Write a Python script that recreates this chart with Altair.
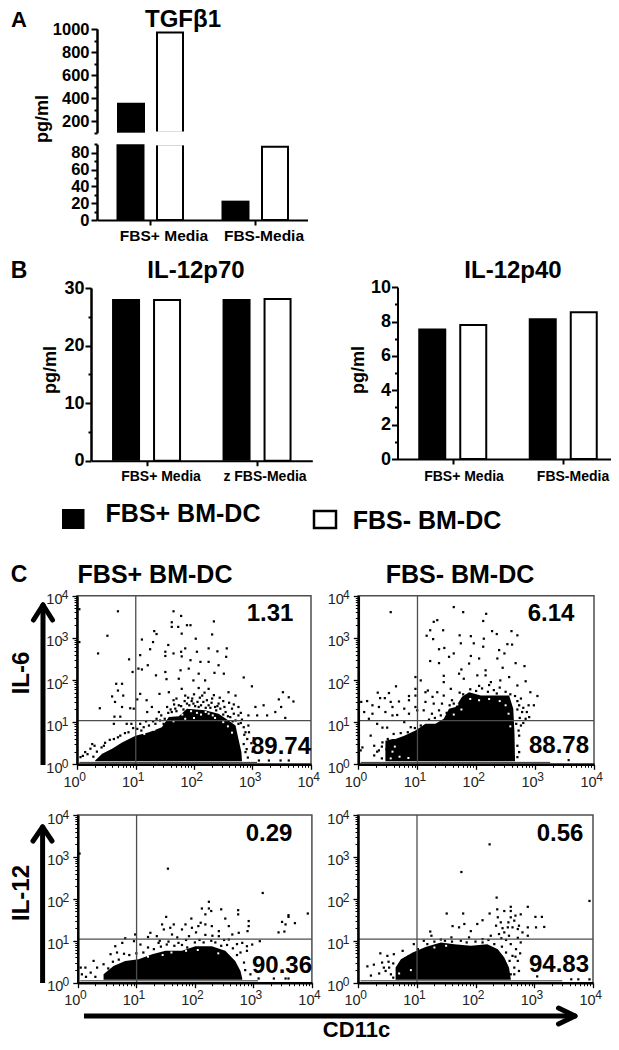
import altair as alt
import pandas as pd

FONT = "Liberation Sans"
W, H = 603, 1034

# ---------- bar data ----------
TGF_CATS = ["FBS+ Media", "FBS-Media"]
TGF_POS = [360, 23]
TGF_NEG = [970, 87]
P70_CATS = ["FBS+ Media", "z FBS-Media"]
P70_POS = [28.1, 28.1]
P70_NEG = [27.9, 28.1]
P40_CATS = ["FBS+ Media", "FBS-Media"]
P40_POS = [7.6, 8.2]
P40_NEG = [7.8, 8.55]

# ---------- flow plots: log10 positions ----------
IL6_POS_ENV_X = [0.31,0.43,0.60,0.77,1.00,1.23,1.45,1.57,1.74,1.88,2.19,2.42,2.59,2.71,2.76,2.81,2.82]
IL6_POS_ENV_Y = [0.09,0.25,0.37,0.52,0.68,0.76,0.88,1.12,1.14,1.32,1.28,1.20,1.04,0.92,0.60,0.29,0.09]
IL6_POS_DOTS = [(0.70,3.63),(0.52,3.05),(0.36,2.63),(0.04,2.90),(0.04,3.68),(1.65,3.63),(1.78,3.52),(1.62,3.37),(1.62,3.26),(1.73,3.26),(1.88,3.30),(1.94,3.30),(2.34,3.39),(1.79,3.10),(1.32,3.16),(1.36,3.09),(1.30,2.90),(1.11,2.96),(1.56,2.83),(2.03,2.98),(2.31,3.08),(2.25,2.75),(2.56,2.75),(2.40,2.68),(2.55,2.55),(1.85,2.75),(1.78,2.67),(1.65,2.63),(1.51,2.67),(1.08,2.59),(0.89,2.49),(1.25,2.73),(1.51,2.57),(1.79,2.56),(2.05,2.67),(1.94,2.47),(2.25,2.43),(2.11,2.43),(2.42,2.35),(1.05,2.27),(1.11,2.25),(0.95,2.19),(1.21,2.35),(1.35,2.11),(1.51,2.19),(1.77,2.23),(1.91,2.27),(2.08,2.15),(2.35,2.17),(2.51,2.15),(1.53,2.02),(1.74,2.03),(1.99,1.99),(2.19,1.99),(2.85,2.06),(2.99,1.85),(0.67,1.91),(0.77,1.91),(0.70,1.75),(0.79,1.63),(0.60,1.61),(0.65,1.48),(0.39,1.33),(0.77,1.36),(0.91,1.33),(0.97,1.32),(1.08,1.67),(1.19,1.52),(1.03,1.54),(1.41,1.67),(1.57,1.71),(1.79,1.79),(2.08,1.81),(2.25,1.79),(2.59,1.71),(2.71,1.63),(3.52,1.71),(3.45,1.54),(3.70,1.49),(3.49,1.36),(3.62,1.59),(3.05,1.36),(3.19,1.40),(3.39,1.24),(3.56,1.10),(3.25,1.16),(3.08,1.16),(2.93,1.16),(2.76,1.36),(2.76,1.16),(2.65,1.32),(0.64,1.13),(0.74,1.13),(0.63,0.96),(0.85,0.96),(0.93,0.96),(1.20,1.24),(1.28,1.36),(1.40,1.24),(1.54,1.36),(1.65,1.52),(1.85,1.63),(1.97,1.56),(2.14,1.63),(2.31,1.56),(2.42,1.44),(0.06,0.17),(0.14,0.29),(0.23,0.37),(0.26,0.48),(0.34,0.30),(0.46,0.44),(0.48,0.51),(0.63,0.60),(0.74,0.68),(0.88,0.76),(1.03,0.84),(1.08,0.96),(1.14,0.88),(1.23,0.92),(1.34,0.96),(1.42,1.04),(1.48,0.96),(1.62,1.24),(1.68,1.32),(1.74,1.40),(1.88,1.44),(1.99,1.44),(2.08,1.36),(2.16,1.48),(2.25,1.40),(2.36,1.36),(2.45,1.32),(2.54,1.24),(2.62,1.12),(2.71,1.04),(2.76,0.96),(2.85,0.88),(2.93,0.92),(2.88,0.76),(2.91,0.60),(2.85,0.48),(2.88,0.29),(3.11,0.09),(3.28,0.09),(3.48,0.09),(3.62,0.09),
(1.60,1.30),(1.70,1.26),(1.78,1.38),(1.82,1.30),(1.92,1.40),(1.96,1.50),(2.02,1.38),(2.06,1.48),(2.12,1.40),(2.20,1.34),(2.22,1.52),(2.28,1.34),(2.30,1.46),(2.38,1.28),(2.40,1.38),(2.50,1.18),(2.52,1.36),(2.58,1.14),(2.66,1.02),(2.68,1.20),(2.80,0.98),(2.82,1.06),(2.86,0.70),(2.94,0.76),(2.98,0.50),(3.02,0.62),(2.90,0.36),(2.92,0.16),(3.00,0.30),(1.36,1.08),(1.30,1.02),(1.18,1.02),(1.10,0.80),(0.96,0.86),(0.82,0.74),(0.70,0.64),(0.56,0.58),(0.42,0.40),(0.30,0.44),(0.18,0.24),(0.10,0.20),(0.28,0.18),(1.44,1.16),(1.50,1.08),(1.56,1.22),(1.66,1.42),(1.70,1.56),(1.84,1.50),(1.90,1.58),(2.00,1.66),(2.10,1.58),(2.18,1.70),(2.34,1.64),(2.44,1.58),(2.50,1.50),(2.60,1.46),(2.68,1.42),(2.80,1.22)]
IL6_POS_HOLES = [(1.80,1.18),(1.95,1.26),(2.05,1.22),(2.12,1.18),(2.20,1.24),(2.25,1.20),(2.32,1.16),(2.36,1.10),(2.00,1.10),(1.85,1.08),(1.65,1.02),(2.50,1.00),(2.58,0.90),(1.32,0.82),(1.15,0.72),(2.65,0.75)]

IL6_NEG_ENV_X = [0.46,0.58,0.63,0.78,0.97,1.14,1.31,1.45,1.54,1.65,1.76,1.88,2.08,2.30,2.56,2.63,2.65,2.66]
IL6_NEG_ENV_Y = [0.56,0.60,0.60,0.68,0.80,0.96,0.96,1.08,1.32,1.36,1.60,1.71,1.63,1.63,1.63,1.32,0.76,0.09]
IL6_NEG_DOTS = [(0.55,3.61),(1.62,3.73),(1.78,3.61),(2.17,3.57),(2.12,3.40),(1.34,3.42),(1.28,3.38),(1.22,3.18),(1.16,3.05),(1.44,3.18),(1.27,2.97),(1.72,3.06),(1.91,3.04),(2.13,2.98),(2.27,3.16),(2.35,3.09),(2.60,3.16),(2.70,3.06),(1.46,2.76),(1.37,2.73),(1.74,2.87),(1.96,2.87),(2.12,2.79),(2.53,2.85),(2.61,2.84),(2.39,2.71),(2.48,2.63),(1.62,2.63),(1.54,2.55),(1.22,2.45),(1.37,2.40),(1.91,2.57),(2.05,2.51),(2.36,2.51),(1.88,2.39),(2.67,2.40),(2.82,2.33),(2.45,2.29),(1.75,2.25),(2.16,2.23),(1.71,2.15),(1.45,2.10),(0.97,2.07),(1.06,1.99),(1.45,1.95),(1.79,2.03),(2.02,2.11),(2.16,2.11),(2.25,1.95),(2.41,1.99),(2.56,2.07),(2.84,1.97),(2.70,1.87),(0.64,1.85),(0.97,1.79),(0.52,1.69),(0.33,1.70),(1.18,1.75),(1.57,1.79),(3.04,1.62),(2.92,1.71),(2.89,1.40),(2.98,1.40),(0.15,1.50),(0.05,1.48),(0.37,1.57),(0.45,1.57),(0.55,1.48),(0.69,1.49),(0.86,1.62),(0.86,1.52),(0.97,1.63),(0.24,1.40),(0.35,1.36),(0.58,1.36),(0.78,1.32),(0.97,1.36),(0.10,1.24),(0.24,1.20),(0.46,1.24),(0.58,1.16),(0.66,1.17),(0.86,1.20),(1.00,1.28),(1.14,1.71),(1.26,1.60),(1.34,1.71),(1.45,1.63),(1.14,1.48),(1.28,1.44),(1.42,1.44),(1.59,1.52),(1.11,1.28),(1.25,1.20),(1.37,1.28),(0.18,1.08),(0.32,0.96),(0.41,0.87),(0.49,0.87),(0.21,0.68),(0.07,0.40),(0.04,0.33),(0.27,0.44),(0.35,0.33),(0.41,0.52),(0.27,0.21),(0.78,1.00),(0.89,0.88),(0.63,0.17),(2.73,1.40),(2.78,1.24),(2.84,1.08),(2.90,1.12),(2.76,0.92),(2.73,0.68),(2.70,0.44),(2.73,0.29),(2.70,0.17),(3.57,0.10),
(1.90,1.78),(2.00,1.74),(2.10,1.80),(2.20,1.72),(2.30,1.76),(2.40,1.82),(2.50,1.72),(2.58,1.66),(2.66,1.62),(2.70,1.50),(2.76,1.56),(2.80,1.34),(2.86,1.24),(2.70,1.30),(2.74,1.10),(2.80,0.98),(2.68,0.96),(2.72,0.80),(1.72,1.70),(1.78,1.66),(1.62,1.44),(1.55,1.40),(1.50,1.22),(1.40,1.16),(1.30,1.10),(1.20,1.06),(1.06,0.92),(0.96,0.86),(0.84,0.76),(0.72,0.74),(0.60,0.72),(0.50,0.60),(0.40,0.42),(0.32,0.30),(0.48,0.36),(0.55,0.26),(0.50,0.14),(0.80,0.14),(0.72,0.24),(0.92,0.12),(0.40,0.14),(2.05,1.86),(2.22,1.88),(2.35,1.68)]
IL6_NEG_HOLES = [(1.62,1.18),(1.75,1.30),(1.90,1.55),(2.05,1.52),(2.22,1.55),(2.40,1.50),(2.50,1.40),(2.55,1.20),(2.58,0.90),(1.68,1.42),(0.58,0.30),(0.55,0.14),(0.70,0.18),(0.85,0.15),(0.62,0.42)]

IL12_POS_ENV_X = [0.44,0.61,0.81,1.04,1.27,1.50,1.78,2.01,2.29,2.52,2.69,2.78,2.81]
IL12_POS_ENV_Y = [0.20,0.40,0.52,0.56,0.68,0.76,0.76,0.87,0.87,0.76,0.52,0.28,0.10]
IL12_POS_DOTS = [(0.03,3.08),(1.54,2.72),(3.16,2.14),(2.24,1.93),(2.12,1.77),(2.24,1.77),(2.28,1.71),(2.45,1.75),(2.74,1.73),(2.74,1.63),(2.18,1.63),(1.51,1.57),(2.52,1.53),(2.92,1.47),(2.92,1.35),(2.90,1.23),(3.60,1.61),(3.60,1.57),(3.49,1.45),(3.71,1.42),(3.55,1.39),(3.53,1.22),(3.43,1.20),(3.93,1.65),(1.94,1.53),(2.10,1.43),(1.84,1.39),(1.95,1.31),(1.64,1.39),(1.44,1.39),(1.47,1.27),(1.58,1.31),(1.78,1.27),(2.06,1.35),(2.18,1.39),(2.29,1.35),(2.41,1.23),(2.58,1.35),(2.64,1.15),(2.75,1.19),(1.24,1.19),(0.98,1.15),(0.81,1.06),(1.20,1.09),(1.35,1.11),(1.61,1.15),(1.90,1.11),(2.18,1.14),(2.41,1.11),(2.58,1.03),(2.81,0.95),(2.89,0.87),(3.11,0.99),(2.78,0.72),(2.89,0.76),(2.98,0.91),(0.76,0.95),(0.64,0.87),(0.96,0.99),(1.07,0.91),(0.56,0.68),(0.67,0.72),(0.79,0.69),(0.27,0.52),(0.44,0.44),(0.05,0.36),(0.13,0.36),(0.33,0.36),(0.07,0.20),(0.22,0.24),(2.95,0.20),(3.09,0.10),(3.35,0.10),(3.55,0.10),(3.60,0.10),(1.38,0.95),(1.52,0.91),(1.72,0.95),(1.87,0.84),
(0.52,0.34),(0.60,0.50),(0.70,0.55),(0.88,0.66),(1.00,0.70),(1.12,0.72),(1.20,0.84),(1.30,0.80),(1.42,0.86),(1.55,0.98),(1.65,0.88),(1.78,0.90),(1.85,1.02),(2.00,0.96),(2.08,1.02),(2.15,0.96),(2.28,1.00),(2.35,0.96),(2.45,0.88),(2.55,0.90),(2.65,0.82),(2.72,0.66),(2.84,0.48),(2.86,0.30),(2.72,0.92),(2.50,1.02),(2.30,1.12),(2.02,1.20),(1.70,1.08),(1.40,1.00),(0.14,0.14),(0.30,0.14)]
IL12_POS_HOLES = [(1.20,0.62),(1.45,0.66),(1.60,0.72),(1.85,0.76),(2.05,0.78),(2.40,0.70)]

IL12_NEG_ENV_X = [0.64,0.73,0.93,1.15,1.41,1.64,1.92,2.20,2.38,2.49,2.57,2.60]
IL12_NEG_ENV_Y = [0.36,0.56,0.72,0.85,0.96,0.92,0.88,0.92,0.80,0.60,0.36,0.10]
IL12_NEG_DOTS = [(2.24,3.30),(1.76,2.64),(3.94,1.95),(2.36,2.03),(2.60,1.81),(2.89,1.81),(1.51,1.65),(1.79,1.65),(2.24,1.65),(2.60,1.71),(2.37,1.75),(2.49,1.71),(2.77,1.63),(3.02,1.57),(3.13,1.57),(3.17,1.33),(3.03,1.32),(1.61,1.35),(2.12,1.49),(2.03,1.40),(1.81,1.40),(1.92,1.23),(1.72,1.32),(1.23,1.22),(2.38,1.56),(2.43,1.44),(2.35,1.36),(2.60,1.56),(2.66,1.48),(2.74,1.36),(2.63,1.32),(2.72,1.28),(2.55,1.32),(2.49,1.20),(2.57,1.12),(2.40,1.16),(2.26,1.12),(2.89,1.32),(2.80,1.20),(2.89,1.12),(2.72,1.07),(2.77,0.96),(2.60,0.92),(2.69,0.80),(2.63,0.64),(2.72,0.52),(2.66,0.36),(2.74,0.28),(2.60,0.20),(1.25,1.12),(1.41,1.03),(1.59,1.08),(1.89,1.08),(2.12,1.04),(1.12,1.00),(0.95,0.92),(0.76,0.76),(0.61,0.68),(0.50,0.64),(0.38,0.70),(0.41,0.48),(0.27,0.43),(0.16,0.39),(0.53,0.36),(0.47,0.28),(0.56,0.20),(0.67,0.14),(0.76,0.30),(0.22,0.17),(3.05,0.15),(3.63,0.08),(3.75,0.08),(3.94,0.08),
(0.60,0.46),(0.70,0.42),(0.86,0.62),(1.02,0.80),(1.18,0.92),(1.30,0.98),(1.48,1.00),(1.60,0.98),(1.75,1.00),(1.85,0.96),(2.00,0.98),(2.12,0.96),(2.22,1.02),(2.32,0.92),(2.45,0.86),(2.52,0.72),(2.58,0.52),(2.55,0.30),(2.68,0.62),(2.76,0.70),(2.66,0.20),(0.44,0.36),(0.36,0.22),(0.60,0.12),(0.52,0.50),(2.52,1.02),(2.44,1.06),(2.56,1.44),(2.68,1.60),(2.46,1.30)]
IL12_NEG_HOLES = [(0.70,0.22),(0.90,0.30),(1.30,0.84),(1.50,0.88)]

DECADES = [0, 1, 2, 3, 4]
MINOR_MULT = [2, 3, 4, 5, 6, 7, 8, 9]


def P(v):
    """page pixel -> chart pixel (8px page margin)"""
    return v - 8


layers = []


def text(s, x, y, size, angle=0, weight="bold", color="#000", font=FONT):
    layers.append(
        alt.Chart().mark_text(fontSize=size, fontWeight=weight, font=font, color=color,
                              angle=angle, align="center", baseline="middle")
        .encode(x=alt.value(P(x)), y=alt.value(P(y)), text=alt.value(s))
    )


def rule(x, y, x2, y2, width=5, color="#000", cap="round"):
    layers.append(
        alt.Chart().mark_rule(strokeWidth=width, color=color, strokeCap=cap)
        .encode(x=alt.value(P(x)), y=alt.value(P(y)), x2=alt.value(P(x2)), y2=alt.value(P(y2)))
    )


def box(x, y, x2, y2, fill, stroke=None, sw=0):
    kw = dict(fill=fill)
    if stroke:
        kw.update(stroke=stroke, strokeWidth=sw)
    layers.append(
        alt.Chart().mark_rect(**kw)
        .encode(x=alt.value(P(x)), y=alt.value(P(y)), x2=alt.value(P(x2)), y2=alt.value(P(y2)))
    )


def xaxis(scale, values, at_y, typ="Q", **kw):
    opts = dict(values=values, orient="bottom", offset=P(at_y) - H, title=None, grid=False,
                zindex=1, labelOverlap=False, labelBound=False, labelFlush=False)
    opts.update(kw)
    df = pd.DataFrame({"v": values})
    layers.append(
        alt.Chart(df).mark_point(opacity=0).encode(
            x=alt.X(f"v:{typ}", scale=scale, axis=alt.Axis(**opts), sort=None),
            y=alt.value(0))
    )


def yaxis(scale, values, at_x, **kw):
    opts = dict(values=values, orient="left", offset=-P(at_x), title=None, grid=False,
                zindex=1, labelOverlap=False, labelBound=False, labelFlush=False)
    opts.update(kw)
    df = pd.DataFrame({"v": values})
    layers.append(
        alt.Chart(df).mark_point(opacity=0).encode(
            y=alt.Y("v:Q", scale=scale, axis=alt.Axis(**opts)),
            x=alt.value(0))
    )


def bars(cats, vals, xscale, yscale, dx, black):
    df = pd.DataFrame({"c": cats, "v": vals})
    mk = dict(fill="#000", size=28) if black else dict(fill="#fff", stroke="#000", strokeWidth=2, size=26)
    layers.append(
        alt.Chart(df).mark_bar(xOffset=dx, **mk).encode(
            x=alt.X("c:N", scale=xscale, axis=None, sort=None),
            y=alt.Y("v:Q", scale=yscale, axis=None, stack=None))
    )


# ---------- panel letters ----------
text("A", 19, 20, 22)
text("B", 19, 271, 23)
text("C", 19, 575, 23)

# ---------- panel A ----------
xA = alt.Scale(domain=TGF_CATS, range=[P(97.5), P(307.5)], paddingInner=0, paddingOuter=0)
yA_top = alt.Scale(domain=[100, 1000], range=[P(132.7), P(29)], clamp=True, zero=False, nice=False)
yA_low = alt.Scale(domain=[0, 90], range=[P(220), P(144.3)], clamp=True, zero=False, nice=False)
bars(TGF_CATS[:1], TGF_POS[:1], xA, yA_top, -19, True)
bars(TGF_CATS[:1], TGF_NEG[:1], xA, yA_top, 20, False)
bars(TGF_CATS, TGF_POS, xA, yA_low, -19.5, True)
bars(TGF_CATS, TGF_NEG, xA, yA_low, 20, False)
box(155, 131.5, 186, 145.4, "#fff")
AX = dict(domainColor="#000", domainWidth=2, tickColor="#000", tickWidth=2, labelFont=FONT,
          labelFontWeight="bold", labelColor="#000")
yaxis(yA_top, [200, 400, 600, 800, 1000], 97, tickSize=6, labelFontSize=16.5, labelPadding=2, format="d", **AX)
yaxis(yA_top, [100, 300, 500, 700, 900], 97, tickSize=3, labels=False, **AX)
yaxis(yA_low, [0, 20, 40, 60, 80], 97, tickSize=6, labelFontSize=16.5, labelPadding=2, **AX)
yaxis(yA_low, [10, 30, 50, 70, 90], 97, tickSize=3, labels=False, **AX)
xaxis(xA, TGF_CATS, 220, typ="N", tickSize=5, labels=False, **AX)
text("FBS+ Media", 164, 236, 15.5)
text("FBS-Media", 264, 236, 15.5)
text("TGF\u03b21", 183, 20, 24)
text("pg/ml", 43, 119, 18, angle=270)

# ---------- panel B ----------
xB1 = alt.Scale(domain=P70_CATS, range=[P(91.3), P(312.3)], paddingInner=0, paddingOuter=0)
yB1 = alt.Scale(domain=[0, 30], range=[P(460.7), P(288)], zero=False, nice=False)
bars(P70_CATS, P70_POS, xB1, yB1, -20.5, True)
bars(P70_CATS, P70_NEG, xB1, yB1, 20.5, False)
yaxis(yB1, [0, 10, 20, 30], 91, tickSize=6, labelFontSize=18, labelPadding=1, **AX)
yaxis(yB1, [5, 15, 25], 91, tickSize=3, labels=False, **AX)
xaxis(xB1, P70_CATS, 460.7, typ="N", tickSize=5, labels=False, **AX)
text("FBS+ Media", 161, 477, 14)
text("z FBS-Media", 265, 477, 14)
text("IL-12p70", 196, 271, 24)
text("pg/ml", 51, 370, 18, angle=270)

xB2 = alt.Scale(domain=P40_CATS, range=[P(397.5), P(618.5)], paddingInner=0, paddingOuter=0)
yB2 = alt.Scale(domain=[0, 10], range=[P(459), P(287.3)], zero=False, nice=False)
bars(P40_CATS, P40_POS, xB2, yB2, -20.5, True)
bars(P40_CATS, P40_NEG, xB2, yB2, 20.5, False)
yaxis(yB2, [0, 2, 4, 6, 8, 10], 397.5, tickSize=6, labelFontSize=18, labelPadding=1, **AX)
yaxis(yB2, [1, 3, 5, 7, 9], 397.5, tickSize=3, labels=False, **AX)
xaxis(xB2, P40_CATS, 459, typ="N", tickSize=5, labels=False, **AX)
text("FBS+ Media", 464, 477, 14)
text("FBS-Media", 573, 477, 14)
text("IL-12p40", 513, 271, 24)
text("pg/ml", 359, 370, 18, angle=270)

# ---------- shared legend ----------
box(62, 509, 84.5, 529, "#000")
text("FBS+ BM-DC", 183, 514, 25)
box(314, 511, 336, 528, "#fff", "#000", 2.5)
text("FBS- BM-DC", 427, 521, 25)

# ---------- panel C ----------
text("FBS+ BM-DC", 155, 575, 25)
text("FBS- BM-DC", 460, 575, 25)

MAJOR = [10.0 ** k for k in DECADES]
MINOR = [m * 10.0 ** k for k in DECADES[:-1] for m in MINOR_MULT]
EXPO = "['0','1','2','3','4'][round(log(datum.value)/LN10)]"
GRAY = "#4d4d4d"


def flow(x0, x1, y0, y1, gate_x, gate_y, env_x, env_y, dots, holes, floor_to, q1, q2):
    sx = alt.Scale(type="log", domain=[1, 10000], range=[P(x0), P(x1)], nice=False)
    sy = alt.Scale(type="log", domain=[1, 10000], range=[P(y1), P(y0)], nice=False)
    noax = dict(axis=None)
    # dense cloud
    env = pd.DataFrame({"x": [10 ** v for v in env_x], "y": [10 ** v for v in env_y],
                        "b": [10 ** 0.07] * len(env_x)})
    layers.append(alt.Chart(env).mark_area(color="#000", interpolate="linear").encode(
        x=alt.X("x:Q", scale=sx, **noax), y=alt.Y("y:Q", scale=sy, **noax), y2="b:Q"))
    # scattered events, and the gaps between them inside the cloud
    pts = pd.DataFrame({"x": [10 ** d[0] for d in dots], "y": [10 ** d[1] for d in dots]})
    layers.append(alt.Chart(pts).mark_square(color="#000", size=5, opacity=1).encode(
        x=alt.X("x:Q", scale=sx, **noax), y=alt.Y("y:Q", scale=sy, **noax)))
    gaps = pd.DataFrame({"x": [10 ** d[0] for d in holes], "y": [10 ** d[1] for d in holes]})
    layers.append(alt.Chart(gaps).mark_square(color="#fff", size=4, opacity=1).encode(
        x=alt.X("x:Q", scale=sx, **noax), y=alt.Y("y:Q", scale=sy, **noax)))
    # line at the floor of the cloud
    flo = pd.DataFrame({"x": [1.1], "x2": [floor_to], "y": [10 ** 0.045]})
    layers.append(alt.Chart(flo).mark_rule(color="#333", strokeWidth=1).encode(
        x=alt.X("x:Q", scale=sx, **noax), x2="x2:Q", y=alt.Y("y:Q", scale=sy, **noax)))
    # frame and quadrant gates
    fr = pd.DataFrame({"x": [1], "x2": [10000], "y": [1], "y2": [10000]})
    layers.append(alt.Chart(fr).mark_rect(fill="transparent", stroke=GRAY, strokeWidth=1.5).encode(
        x=alt.X("x:Q", scale=sx, **noax), x2="x2:Q",
        y=alt.Y("y:Q", scale=sy, **noax), y2="y2:Q"))
    gx = pd.DataFrame({"x": [gate_x], "y": [1], "y2": [10000]})
    layers.append(alt.Chart(gx).mark_rule(color=GRAY, strokeWidth=1.3).encode(
        x=alt.X("x:Q", scale=sx, **noax), y=alt.Y("y:Q", scale=sy, **noax), y2="y2:Q"))
    gy = pd.DataFrame({"y": [gate_y], "x": [1], "x2": [10000]})
    layers.append(alt.Chart(gy).mark_rule(color=GRAY, strokeWidth=1.3).encode(
        y=alt.Y("y:Q", scale=sy, **noax), x=alt.X("x:Q", scale=sx, **noax), x2="x2:Q"))
    # axes
    base = dict(domainColor="#000", domainWidth=2.5, tickColor="#000", tickWidth=1.3)
    xaxis(sx, MAJOR, y1, tickSize=5, labels=False, **base)
    xaxis(sx, MINOR, y1, tickSize=3, labels=False, domain=False, tickColor="#000", tickWidth=1)
    yaxis(sy, MAJOR, x0, tickSize=5, labels=False, **base)
    yaxis(sy, MINOR, x0, tickSize=3, labels=False, domain=False, tickColor="#000", tickWidth=1)
    lab = dict(domain=False, ticks=False, tickSize=0, labelFont=FONT, labelColor="#222")
    xaxis(sx, MAJOR, y1, labelExpr="'10'", labelFontSize=14.5, labelOffset=-6, labelPadding=11,
          labelBaseline="top", **lab)
    xaxis(sx, MAJOR, y1, labelExpr=EXPO, labelFontSize=12, labelOffset=5, labelPadding=7,
          labelBaseline="top", **lab)
    yaxis(sy, MAJOR, x0, labelExpr="'10'", labelFontSize=14.5, labelOffset=4, labelPadding=15, **lab)
    yaxis(sy, MAJOR, x0, labelExpr=EXPO, labelFontSize=12, labelOffset=-1, labelPadding=9, **lab)
    text(q1[0], q1[1], q1[2], 24)
    text(q2[0], q2[1], q2[2], 24)


flow(77, 311, 595.7, 764.3, 10.1, 10.9, IL6_POS_ENV_X, IL6_POS_ENV_Y, IL6_POS_DOTS, IL6_POS_HOLES, 1200,
     ("1.31", 270, 614), ("89.74", 281, 747))
flow(358.3, 594, 595.7, 764.3, 10.1, 10.9, IL6_NEG_ENV_X, IL6_NEG_ENV_Y, IL6_NEG_DOTS, IL6_NEG_HOLES, 1800,
     ("6.14", 551, 614), ("88.78", 559, 746))
flow(77.8, 311.9, 815, 982.7, 10.1, 10.9, IL12_POS_ENV_X, IL12_POS_ENV_Y, IL12_POS_DOTS, IL12_POS_HOLES, 1200,
     ("0.29", 269, 834), ("90.36", 282, 966))
flow(358, 593, 815, 982.7, 10.1, 10.9, IL12_NEG_ENV_X, IL12_NEG_ENV_Y, IL12_NEG_DOTS, IL12_NEG_HOLES, 3000,
     ("0.56", 560, 834), ("94.83", 559, 965))

# ---------- arrows ----------
rule(43, 765, 43, 606, 5, cap="butt")
rule(43, 605, 33.5, 620, 5)
rule(43, 605, 52.5, 620, 5)
text("IL-6", 22, 673, 24, angle=270)

rule(42.6, 983, 42.6, 828, 5, cap="butt")
rule(42.6, 827, 33, 841, 5)
rule(42.6, 827, 52, 841, 5)
text("IL-12", 22, 893, 24, angle=270)

rule(84, 1016, 574, 1016, 5, cap="butt")
rule(575, 1016, 558.5, 1008, 5)
rule(575, 1016, 558.5, 1024, 5)
text("CD11c", 356.5, 1030, 22)

chart = (
    alt.layer(*layers)
    .resolve_scale(x="independent", y="independent")
    .properties(width=W, height=H, padding=0, autosize=alt.AutoSizeParams(type="none"),
                background="#ffffff")
    .configure_view(stroke=None)
)
chart.save("out.html", embed_options={"renderer": "svg", "actions": False})
